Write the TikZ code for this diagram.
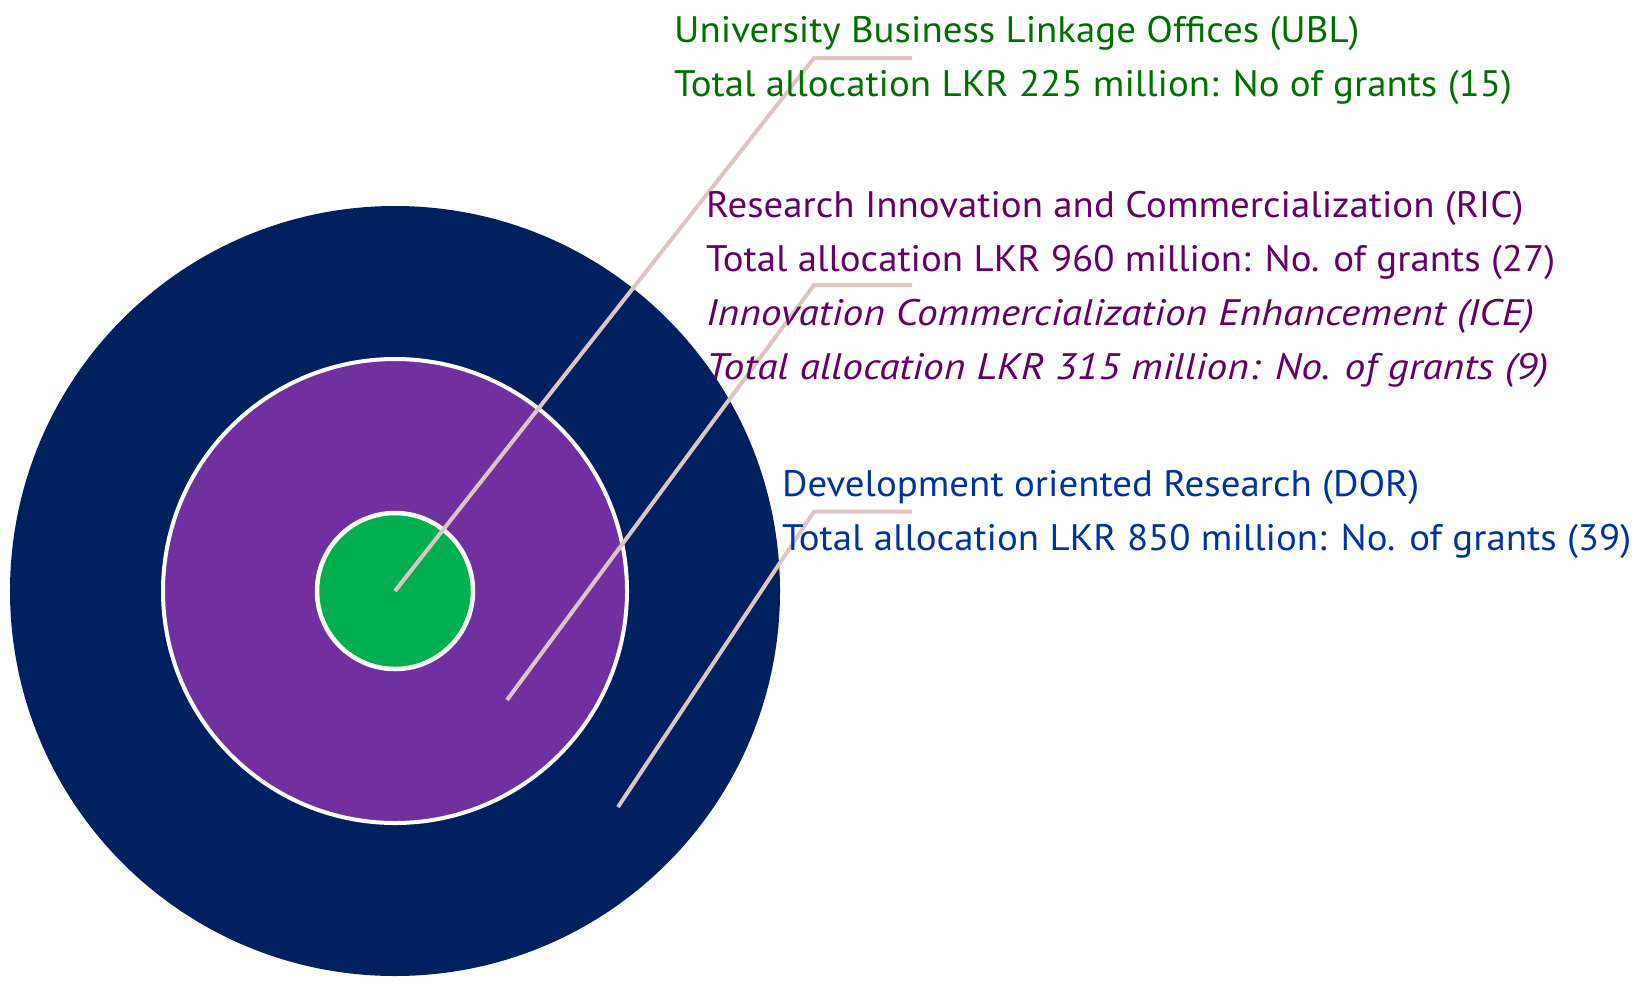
\documentclass[tikz,border=0pt]{standalone}
\usepackage{fontspec}
\setmainfont{PT Sans}[FakeStretch=1.055,ItalicFeatures={FakeStretch=1.125}]
\definecolor{dornavy}{HTML}{002060}
\definecolor{ricpurple}{HTML}{7030A0}
\definecolor{ublgreen}{HTML}{00B050}
\definecolor{ubltext}{HTML}{007000}
\definecolor{rictext}{HTML}{660066}
\definecolor{dortext}{HTML}{0033A0}
\definecolor{leadpink}{HTML}{DFC4C4}
\begin{document}
\begin{tikzpicture}[x=1bp,y=-1bp]
\tikzstyle{ring}=[circle,inner sep=0pt]
\tikzstyle{grant}=[anchor=base west,inner sep=0pt,font=\fontsize{37}{44}\selectfont]
\tikzstyle{leader}=[draw=leadpink,line width=4bp]
\useasboundingbox (0,0) rectangle (1633,981);
\node[ring,fill=dornavy,minimum size=770bp] (dor) at (395,591) {};
\node[ring,fill=ricpurple,draw=white,line width=4bp,minimum size=464bp] (ric) at (dor.center) {};
\node[ring,fill=ublgreen,draw=white,line width=4.5bp,minimum size=156bp] (ubl) at (dor.center) {};
\coordinate (ric tip) at (507,700);
\coordinate (dor tip) at (618,807);
\coordinate (ubl elbow) at (814,58);
\coordinate (ubl end) at (912,58);
\coordinate (ric elbow) at (814,285);
\coordinate (ric end) at (912,285);
\coordinate (dor elbow) at (814,511.5);
\coordinate (dor end) at (912,511.5);
\draw[leader] (ubl.center) -- (ubl elbow) -- (ubl end);
\draw[leader] (ric tip) -- (ric elbow) -- (ric end);
\draw[leader] (dor tip) -- (dor elbow) -- (dor end);
\node[grant,text=ubltext] (ubl name) at (674,42) {University Business Linkage Offices (UBL)};
\node[grant,text=ubltext] (ubl total) at (674,96.5) {Total allocation LKR 225 million: No of grants (15)};
\node[grant,text=rictext] (ric name) at (706,217) {Research Innovation and Commercialization (RIC)};
\node[grant,text=rictext] (ric total) at (706,271) {Total allocation LKR 960 million: No. of grants (27)};
\node[grant,text=rictext,font=\fontsize{37}{44}\selectfont\itshape] (ice name) at (706,325) {Innovation Commercialization Enhancement (ICE)};
\node[grant,text=rictext,font=\fontsize{37}{44}\selectfont\itshape] (ice total) at (706,379) {Total allocation LKR 315 million: No. of grants (9)};
\node[grant,text=dortext] (dor name) at (782,496) {Development oriented Research (DOR)};
\node[grant,text=dortext] (dor total) at (782,550) {Total allocation LKR 850 million: No. of grants (39)};
\end{tikzpicture}
\end{document}
